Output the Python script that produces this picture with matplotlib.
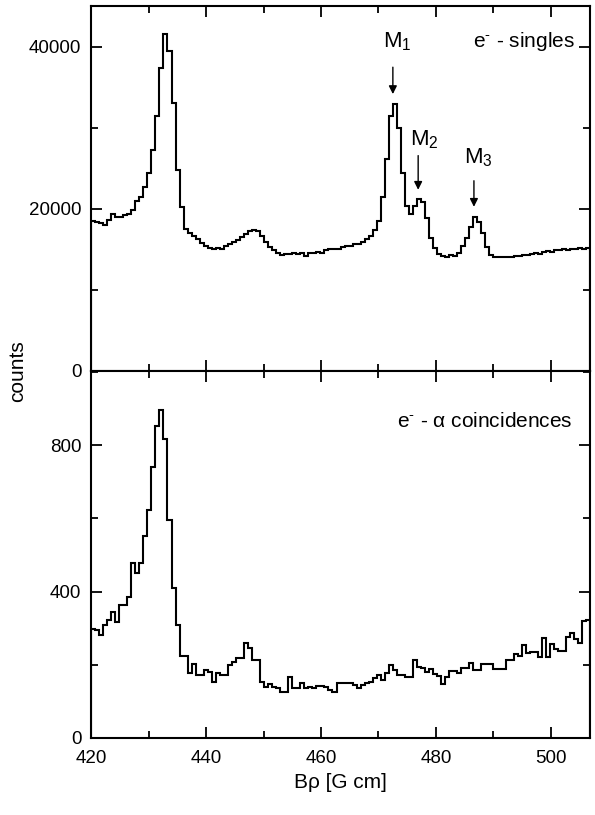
import numpy as np
import matplotlib
matplotlib.use("Agg")
import matplotlib.pyplot as plt
from matplotlib.ticker import MultipleLocator

plt.rcParams['font.family'] = ['Liberation Sans', 'DejaVu Sans']
plt.rcParams['mathtext.fontset'] = 'custom'
plt.rcParams['mathtext.rm'] = 'Liberation Sans'
plt.rcParams['mathtext.it'] = 'Liberation Sans'

# binning of both spectra (B-rho, G cm)
bin_start = 420.0
bin_width = 0.7

# e- singles counts per bin
singles = [
    18500, 18400, 18300, 18000, 18600, 19300, 19000, 19000, 19200, 19400,
    19900, 20900, 21500, 22700, 24400, 27300, 31400, 37300, 41600, 39400,
    33000, 24800, 20200, 17500, 17000, 16700, 16300, 15800, 15400, 15200,
    15100, 15200, 15100, 15400, 15600, 15900, 16200, 16500, 16900, 17200,
    17400, 17200, 16600, 15900, 15300, 14900, 14500, 14300, 14400, 14400,
    14500, 14400, 14500, 14200, 14600, 14500, 14700, 14600, 14900, 15000,
    15000, 15100, 15300, 15400, 15400, 15600, 15700, 15900, 16300, 16600,
    17400, 18500, 21500, 26100, 31400, 32900, 30000, 24400, 20300, 19300,
    20400, 21200, 20800, 18900, 16400, 15200, 14400, 14200, 14100, 14300,
    14200, 14600, 15400, 16400, 17800, 19000, 18400, 17000, 15300, 14300,
    14100, 14000, 14000, 14100, 14100, 14200, 14200, 14300, 14300, 14400,
    14500, 14400, 14700, 14800, 14700, 14900, 14900, 15000, 14900, 15100,
    15000, 15200, 15100, 15200,
]

# e- - alpha coincidence counts per bin
coinc = [
    299, 295, 282, 310, 323, 345, 318, 364, 364, 386,
    479, 452, 479, 551, 622, 740, 852, 896, 816, 595,
    411, 310, 225, 225, 178, 203, 173, 173, 186, 181,
    153, 178, 173, 173, 200, 208, 219, 219, 260, 247,
    214, 214, 153, 140, 148, 140, 137, 126, 126, 167,
    137, 137, 151, 137, 140, 137, 142, 142, 140, 132,
    126, 151, 151, 151, 151, 145, 137, 145, 151, 153,
    164, 173, 159, 178, 200, 186, 173, 173, 167, 167,
    214, 195, 192, 181, 189, 175, 170, 148, 167, 184,
    184, 178, 192, 192, 205, 186, 186, 203, 203, 203,
    189, 189, 189, 214, 214, 230, 225, 255, 233, 236,
    236, 222, 274, 222, 258, 244, 238, 238, 277, 288,
    271, 260, 321, 323,
]

# peak markers: label, arrow x, arrow top, arrow tip, label position
peak_labels = ['M$_1$', 'M$_2$', 'M$_3$']
peak_x = [472.5, 476.9, 486.6]
arrow_top = [37800, 26900, 23800]
arrow_tip = [33800, 22000, 19900]
label_x = [473.2, 477.9, 487.3]
label_y = [40600, 28500, 26300]

edges = bin_start + bin_width * np.arange(len(singles) + 1)

fig = plt.figure(figsize=(5.95, 8.15), dpi=100)
ax1 = fig.add_axes([0.153, 0.5448, 0.8387, 0.4478])
ax2 = fig.add_axes([0.153, 0.0945, 0.8387, 0.4503])

ax1.stairs(singles, edges, color='black', linewidth=1.5)
ax2.stairs(coinc, edges, color='black', linewidth=1.5)

ax1.set_xlim(420, 506.8)
ax2.set_xlim(420, 506.8)
ax1.set_ylim(0, 45000)
ax2.set_ylim(0, 1003)

ax1.yaxis.set_major_locator(MultipleLocator(20000))
ax1.yaxis.set_minor_locator(MultipleLocator(10000))
ax2.yaxis.set_major_locator(MultipleLocator(400))
ax2.yaxis.set_minor_locator(MultipleLocator(200))
for ax in (ax1, ax2):
    ax.xaxis.set_major_locator(MultipleLocator(20))
    ax.xaxis.set_minor_locator(MultipleLocator(10))
    ax.tick_params(which='both', direction='in', top=True, right=True,
                   labelsize=13.5, width=1.3)
    ax.tick_params(which='major', length=8)
    ax.tick_params(which='minor', length=5)
    ax.tick_params(axis='y', pad=7)
    ax.tick_params(axis='x', pad=9)
    for sp in ax.spines.values():
        sp.set_linewidth(1.5)
ax1.tick_params(labelbottom=False)

ax2.set_xlabel('B\u03c1 [G cm]', fontsize=15, labelpad=4)
fig.text(0.03, 0.545, 'counts', rotation=90, fontsize=15,
         ha='center', va='center')

ax1.text(504.2, 40600, 'e$^{\\text{-}}$ - singles', fontsize=15,
         ha='right', va='center')
ax2.text(503.8, 866, 'e$^{\\text{-}}$ - \u03b1 coincidences', fontsize=15,
         ha='right', va='center')

for lab, x, y0, y1, lx, ly in zip(peak_labels, peak_x, arrow_top, arrow_tip,
                                  label_x, label_y):
    ax1.annotate('', xy=(x, y1), xytext=(x, y0),
                 arrowprops=dict(arrowstyle='-|>', color='black', lw=1.0,
                                 mutation_scale=12))
    ax1.text(lx, ly, lab, fontsize=16, ha='center', va='center')

plt.savefig('out.png', dpi=100)
